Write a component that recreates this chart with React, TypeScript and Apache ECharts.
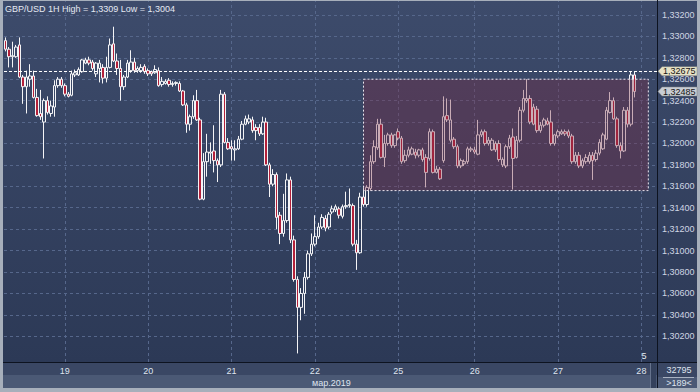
import React, { useEffect, useRef } from 'react';
import * as echarts from 'echarts';

// hourly slots on the time axis (includes the empty room right of the last candle)
const SLOTS = 188;
const dayLabels = ['19', '20', '21', '22', '25', '26', '27', '28'];
const dayIndex = [17, 41, 65, 89, 113, 135, 159, 183];
const monthLabel = 'мар.2019';
// price levels that carry a dotted grid line
const gridLevels = [
  1.302, 1.304, 1.306, 1.308, 1.31, 1.312, 1.314, 1.316, 1.318, 1.32, 1.322, 1.324, 1.326, 1.328, 1.33, 1.332,
];

const opens = [
  1.3296, 1.3288, 1.3281, 1.3281, 1.3292, 1.3262, 1.3253, 1.3260, 1.3263, 1.3243,
  1.3228, 1.3220, 1.3240, 1.3228, 1.3234, 1.3254, 1.3260, 1.3254, 1.3246, 1.3245,
  1.3264, 1.3264, 1.3267, 1.3275, 1.3278, 1.3276, 1.3265, 1.3270, 1.3271, 1.3261,
  1.3271, 1.3293, 1.3277, 1.3270, 1.3253, 1.3262, 1.3268, 1.3276, 1.3268, 1.3268,
  1.3272, 1.3268, 1.3267, 1.3266, 1.3268, 1.3255, 1.3256, 1.3259, 1.3255, 1.3256,
  1.3256, 1.3249, 1.3236, 1.3218, 1.3225, 1.3240, 1.3222, 1.3148, 1.3183, 1.3191,
  1.3193, 1.3184, 1.3180, 1.3246, 1.3201, 1.3197, 1.3194, 1.3195, 1.3204, 1.3218,
  1.3220, 1.3222, 1.3215, 1.3215, 1.3209, 1.3220, 1.3180, 1.3162, 1.3171, 1.3133,
  1.3116, 1.3128, 1.3166, 1.3110, 1.3073, 1.3047, 1.3060, 1.3075, 1.3097, 1.3106,
  1.3113, 1.3122, 1.3130, 1.3122, 1.3136, 1.3138, 1.3139, 1.3132, 1.3141, 1.3142,
  1.3142, 1.3106, 1.3098, 1.3150, 1.3143, 1.3158, 1.3183, 1.3196, 1.3218, 1.3187,
  1.3200, 1.3208, 1.3198, 1.3211, 1.3205, 1.3184, 1.3189, 1.3190, 1.3192, 1.3189,
  1.3194, 1.3187, 1.3186, 1.3211, 1.3173, 1.3176, 1.3184, 1.3226, 1.3203, 1.3204,
  1.3197, 1.3179, 1.3181, 1.3183, 1.3194, 1.3194, 1.3190, 1.3208, 1.3211, 1.3200,
  1.3194, 1.3200, 1.3200, 1.3180, 1.3179, 1.3197, 1.3206, 1.3187, 1.3203, 1.3231,
  1.3240, 1.3242, 1.3234, 1.3232, 1.3212, 1.3217, 1.3221, 1.3220, 1.3200, 1.3207,
  1.3209, 1.3211, 1.3211, 1.3207, 1.3183, 1.3189, 1.3179, 1.3183, 1.3183, 1.3189,
  1.3185, 1.3191, 1.3195, 1.3204, 1.3229, 1.3240, 1.3223, 1.3198, 1.3193, 1.3231,
  1.3218, 1.3264,
];

const closes = [
  1.3288, 1.3281, 1.3282, 1.3290, 1.3262, 1.3253, 1.3262, 1.3263, 1.3243, 1.3226,
  1.3225, 1.3240, 1.3229, 1.3235, 1.3254, 1.3260, 1.3254, 1.3246, 1.3244, 1.3265,
  1.3266, 1.3269, 1.3278, 1.3278, 1.3275, 1.3270, 1.3275, 1.3275, 1.3261, 1.3271,
  1.3292, 1.3277, 1.3270, 1.3253, 1.3262, 1.3275, 1.3276, 1.3268, 1.3270, 1.3271,
  1.3267, 1.3265, 1.3265, 1.3269, 1.3254, 1.3258, 1.3258, 1.3255, 1.3256, 1.3257,
  1.3249, 1.3236, 1.3218, 1.3225, 1.3240, 1.3222, 1.3148, 1.3183, 1.3192, 1.3192,
  1.3184, 1.3180, 1.3246, 1.3201, 1.3195, 1.3195, 1.3195, 1.3204, 1.3218, 1.3223,
  1.3223, 1.3212, 1.3212, 1.3209, 1.3220, 1.3180, 1.3162, 1.3171, 1.3131, 1.3116,
  1.3128, 1.3166, 1.3110, 1.3073, 1.3047, 1.3060, 1.3075, 1.3097, 1.3106, 1.3113,
  1.3122, 1.3131, 1.3121, 1.3134, 1.3139, 1.3141, 1.3133, 1.3141, 1.3142, 1.3143,
  1.3106, 1.3098, 1.3150, 1.3143, 1.3159, 1.3183, 1.3197, 1.3218, 1.3187, 1.3200,
  1.3208, 1.3198, 1.3208, 1.3205, 1.3183, 1.3189, 1.3194, 1.3195, 1.3189, 1.3194,
  1.3185, 1.3173, 1.3211, 1.3173, 1.3176, 1.3167, 1.3225, 1.3222, 1.3222, 1.3197,
  1.3179, 1.3184, 1.3183, 1.3195, 1.3195, 1.3192, 1.3208, 1.3211, 1.3200, 1.3203,
  1.3203, 1.3194, 1.3185, 1.3185, 1.3197, 1.3205, 1.3186, 1.3203, 1.3231, 1.3242,
  1.3242, 1.3220, 1.3218, 1.3212, 1.3217, 1.3222, 1.3218, 1.3200, 1.3208, 1.3211,
  1.3211, 1.3209, 1.3207, 1.3183, 1.3189, 1.3179, 1.3184, 1.3187, 1.3189, 1.3184,
  1.3191, 1.3201, 1.3208, 1.3231, 1.3240, 1.3223, 1.3198, 1.3193, 1.3231, 1.3218,
  1.3264, 1.32485,
];

const lows = [
  1.3286, 1.3271, 1.3271, 1.3280, 1.3261, 1.3237, 1.3228, 1.3253, 1.3242, 1.3225,
  1.3222, 1.3186, 1.3227, 1.3225, 1.3225, 1.3252, 1.3252, 1.3244, 1.3243, 1.3244,
  1.3262, 1.3263, 1.3266, 1.3274, 1.3273, 1.3268, 1.3262, 1.3257, 1.3256, 1.3257,
  1.3270, 1.3276, 1.3264, 1.3240, 1.3250, 1.3261, 1.3266, 1.3266, 1.3266, 1.3266,
  1.3265, 1.3263, 1.3263, 1.3265, 1.3253, 1.3253, 1.3255, 1.3253, 1.3253, 1.3254,
  1.3248, 1.3235, 1.3210, 1.3212, 1.3223, 1.3221, 1.3147, 1.3147, 1.3169, 1.3181,
  1.3173, 1.3164, 1.3178, 1.3200, 1.3194, 1.3184, 1.3184, 1.3194, 1.3203, 1.3217,
  1.3218, 1.3210, 1.3203, 1.3207, 1.3208, 1.3179, 1.3150, 1.3160, 1.3120, 1.3106,
  1.3113, 1.3126, 1.3107, 1.3071, 1.3004, 1.3035, 1.3041, 1.3073, 1.3095, 1.3104,
  1.3111, 1.3120, 1.3118, 1.3120, 1.3134, 1.3136, 1.3130, 1.3130, 1.3139, 1.3140,
  1.3104, 1.3082, 1.3097, 1.3141, 1.3141, 1.3156, 1.3181, 1.3194, 1.3186, 1.3178,
  1.3198, 1.3196, 1.3196, 1.3203, 1.3181, 1.3182, 1.3187, 1.3189, 1.3186, 1.3187,
  1.3183, 1.3159, 1.3184, 1.3172, 1.3172, 1.3166, 1.3182, 1.3220, 1.3201, 1.3195,
  1.3177, 1.3177, 1.3179, 1.3181, 1.3192, 1.3190, 1.3189, 1.3206, 1.3198, 1.3198,
  1.3193, 1.3192, 1.3183, 1.3178, 1.3177, 1.3195, 1.3157, 1.3186, 1.3201, 1.3229,
  1.3238, 1.3218, 1.3217, 1.3210, 1.3210, 1.3215, 1.3217, 1.3198, 1.3198, 1.3205,
  1.3208, 1.3207, 1.3205, 1.3181, 1.3181, 1.3177, 1.3177, 1.3181, 1.3181, 1.3166,
  1.3183, 1.3189, 1.3194, 1.3203, 1.3228, 1.3222, 1.3196, 1.3186, 1.3192, 1.3215,
  1.3216, 1.3243,
];

const highs = [
  1.3299, 1.3290, 1.3295, 1.3292, 1.3299, 1.3264, 1.3268, 1.3274, 1.3268, 1.3251,
  1.3250, 1.3242, 1.3244, 1.3240, 1.3259, 1.3262, 1.3262, 1.3256, 1.3248, 1.3268,
  1.3269, 1.3271, 1.3279, 1.3280, 1.3281, 1.3278, 1.3276, 1.3278, 1.3274, 1.3281,
  1.3298, 1.3309, 1.3284, 1.3278, 1.3264, 1.3278, 1.3287, 1.3280, 1.3272, 1.3274,
  1.3274, 1.3270, 1.3268, 1.3273, 1.3271, 1.3262, 1.3260, 1.3261, 1.3258, 1.3258,
  1.3258, 1.3250, 1.3238, 1.3227, 1.3245, 1.3250, 1.3224, 1.3191, 1.3209, 1.3201,
  1.3217, 1.3186, 1.3250, 1.3248, 1.3205, 1.3203, 1.3203, 1.3207, 1.3221, 1.3226,
  1.3227, 1.3225, 1.3218, 1.3218, 1.3225, 1.3224, 1.3182, 1.3176, 1.3173, 1.3136,
  1.3153, 1.3172, 1.3169, 1.3114, 1.3076, 1.3065, 1.3080, 1.3100, 1.3116, 1.3133,
  1.3126, 1.3134, 1.3133, 1.3136, 1.3142, 1.3143, 1.3141, 1.3143, 1.3155, 1.3158,
  1.3144, 1.3110, 1.3154, 1.3159, 1.3161, 1.3189, 1.3203, 1.3223, 1.3223, 1.3208,
  1.3210, 1.3210, 1.3209, 1.3214, 1.3207, 1.3194, 1.3197, 1.3197, 1.3195, 1.3195,
  1.3196, 1.3190, 1.3214, 1.3213, 1.3179, 1.3178, 1.3244, 1.3242, 1.3241, 1.3206,
  1.3199, 1.3186, 1.3185, 1.3197, 1.3197, 1.3197, 1.3222, 1.3213, 1.3213, 1.3206,
  1.3205, 1.3202, 1.3203, 1.3187, 1.3199, 1.3208, 1.3214, 1.3207, 1.3234, 1.3250,
  1.3260, 1.3245, 1.3237, 1.3235, 1.3220, 1.3224, 1.3224, 1.3231, 1.3209, 1.3213,
  1.3213, 1.3213, 1.3213, 1.3209, 1.3192, 1.3192, 1.3186, 1.3190, 1.3192, 1.3192,
  1.3194, 1.3204, 1.3210, 1.3234, 1.3248, 1.3243, 1.3225, 1.3201, 1.3234, 1.3234,
  1.32675, 1.3267,
];

// annotations
const levelLine = 1.32675;
const boxStart = '103';
const boxEnd = '185';
const boxTop = 1.326;
const boxBottom = 1.3156;
const yMin = 1.2996;
const yMax = 1.3333;
const footerCount = '32795';
const footerBars = '>189<';

const FONT = '"Liberation Sans", Arial, sans-serif';
const GRID = '#56678b';

const fmt = (v: number, d: number) => v.toFixed(d).replace('.', ',');

function Box(p: { l: number; t: number; w: number; h: number; bg: string; extra?: React.CSSProperties }) {
  return (
    <div
      style={{ position: 'absolute', left: p.l, top: p.t, width: p.w, height: p.h, background: p.bg, ...(p.extra || {}) }}
    />
  );
}

export default function App() {
  const ref = useRef<HTMLDivElement>(null);

  useEffect(() => {
    const el = ref.current;
    if (!el) return;
    const chart = echarts.init(el, null, { renderer: 'svg' });
    const data = opens.map((o, i) => [o, closes[i], lows[i], highs[i]]);
    const cats = Array.from({ length: SLOTS }, (_, i) => String(i));
    const hi = Math.max(...highs);
    const lo = Math.min(...lows);
    const lastClose = closes[closes.length - 1];
    const gridStyle = { color: GRID, type: [3, 3], width: 1 };

    const txt = (id: string, x: number, y: number, text: string, fill: string, align = 'left') => ({
      type: 'text',
      id,
      x,
      y,
      z: 30,
      silent: true,
      style: { text, fill, font: `9px ${FONT}`, align, verticalAlign: 'middle' },
    });

    const staticGraphics: any[] = [
      txt('title', 5, 9, `GBP/USD 1H High = ${fmt(hi, 4)} Low = ${fmt(lo, 4)}`, '#e4e9f2'),
      txt('month', 312, 383, monthLabel, '#dfe4ee'),
      txt('cnt', 679, 370, footerCount, '#dfe4ee', 'center'),
      txt('bars', 679, 383, footerBars, '#dfe4ee', 'center'),
      txt('five', 644, 356, '5', '#e8ecf4', 'center'),
    ];

    chart.setOption({
      animation: false,
      backgroundColor: 'transparent',
      textStyle: { fontFamily: FONT },
      grid: { left: 4, right: 43, top: 1, bottom: 30, containLabel: false, outerBoundsMode: 'none' },
      xAxis: {
        type: 'category',
        data: cats,
        boundaryGap: true,
        axisLine: { show: false },
        axisTick: { show: false },
        splitLine: { show: false },
        axisLabel: {
          interval: (i: number) => dayIndex.includes(i),
          formatter: (_v: string, i: number) => {
            const k = dayIndex.indexOf(i);
            return k >= 0 ? dayLabels[k] : '';
          },
          color: '#dfe4ee',
          fontSize: 9,
          fontFamily: FONT,
          margin: 4,
        },
      },
      yAxis: {
        type: 'value',
        position: 'right',
        min: yMin,
        max: yMax,
        splitNumber: 17,
        minInterval: 0.002,
        maxInterval: 0.002,
        axisLine: { show: false },
        axisTick: { show: false },
        axisLabel: {
          color: '#cfd6e4',
          fontSize: 9,
          fontFamily: FONT,
          margin: 5,
          showMinLabel: false,
          showMaxLabel: false,
          formatter: (v: number) => (v < 1.3009 || v > 1.3325 ? '' : fmt(v, 5)),
        },
        splitLine: { show: false },
      },
      series: [
        {
          type: 'candlestick',
          data,
          barWidth: 3,
          itemStyle: {
            color: 'rgba(0,0,0,0)',
            color0: '#b3203a',
            borderColor: '#f4f4f6',
            borderColor0: '#f4f4f6',
            borderWidth: 1,
          },
          markLine: {
            silent: true,
            precision: 6,
            z: 1,
            symbol: ['none', 'none'],
            label: { show: false },
            lineStyle: gridStyle,
            data: [
              ...dayIndex.map((i) => ({ xAxis: String(i), lineStyle: gridStyle })),
              ...gridLevels.map((v) => ({ yAxis: v, lineStyle: gridStyle })),
            ],
          },
          markArea: {
            silent: true,
            z: 10,
            itemStyle: {
              color: 'rgba(125,45,70,0.36)',
              borderColor: '#ece6ef',
              borderWidth: 1,
              borderType: [2, 2],
            },
            data: [[{ xAxis: boxStart, yAxis: boxTop }, { xAxis: boxEnd, yAxis: boxBottom }]],
          },
        },
        {
          // carries the white dashed level line above the candles
          type: 'line',
          data: [],
          z: 12,
          markLine: {
            silent: true,
            precision: 6,
            symbol: ['none', 'none'],
            label: { show: false },
            data: [{ yAxis: levelLine, lineStyle: { color: '#ffffff', type: [3, 2], width: 1 } }],
          },
        },
      ],
      graphic: staticGraphics,
    });

    const tag = (id: string, value: number, fill: string) => {
      const y = chart.convertToPixel({ yAxisIndex: 0 }, value) as number;
      return [
        {
          type: 'polygon',
          id: id + 'b',
          z: 40,
          silent: true,
          shape: { points: [[658, y], [662, y - 4.5], [697, y - 4.5], [697, y + 4.5], [662, y + 4.5]] },
          style: { fill, stroke: '#7f8383', lineWidth: 0.5 },
        },
        {
          type: 'text',
          id: id + 't',
          x: 663,
          y,
          z: 41,
          silent: true,
          style: { text: fmt(value, 5), fill: '#151515', font: `9px ${FONT}`, align: 'left', verticalAlign: 'middle' },
        },
      ];
    };

    chart.setOption({
      graphic: [...staticGraphics, ...tag('lvl', levelLine, '#e7e2c6'), ...tag('last', lastClose, '#c9cdd4')],
    });

    return () => chart.dispose();
  }, []);

  const navy = 'linear-gradient(#3d4b6b, #2c3956)';
  return (
    <div style={{ position: 'fixed', left: 0, top: 0, width: 700, height: 392, background: '#a7afbb', overflow: 'hidden' }}>
      <Box l={3} t={1} w={654} h={361} bg={navy} />
      <Box l={658} t={1} w={39} h={361} bg={navy} />
      <Box l={3} t={363} w={654} h={12} bg="#3a4764" />
      <Box l={3} t={375} w={654} h={13} bg="#4b5975" />
      <Box l={658} t={363} w={39} h={14} bg="#3a4764" />
      <Box l={658} t={377} w={39} h={11} bg="#4b5975" />
      <Box l={650} t={363} w={5} h={25} bg="#34415c" extra={{ borderLeft: '1px solid #66738d' }} />
      <Box l={663} t={377} w={31} h={1} bg="#a9b2c2" />
      <Box l={657} t={0} w={1} h={388} bg="#0d1320" />
      <Box l={3} t={362} w={694} h={1} bg="#0d1320" />
      <div ref={ref} style={{ position: 'absolute', left: 0, top: 0, width: 700, height: 392 }} />
    </div>
  );
}
